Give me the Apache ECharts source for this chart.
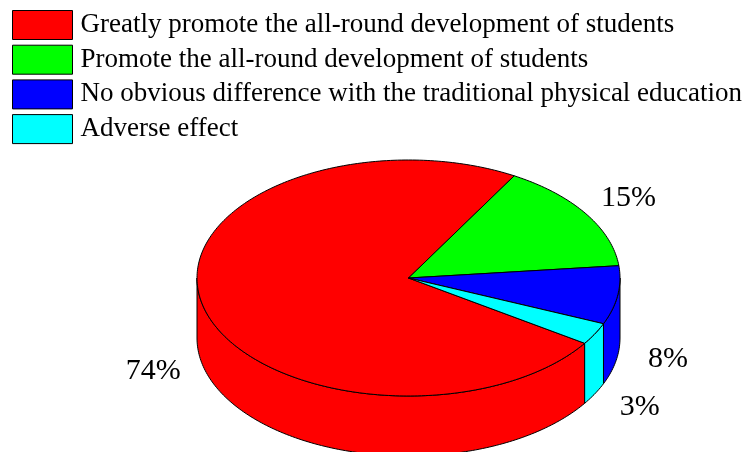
<!DOCTYPE html>
<html>
<head>
    <meta charset="UTF-8">
    <title>3D pie</title>
    <script src="https://cdn.jsdelivr.net/npm/echarts@6/dist/echarts.min.js"></script>
</head>
<body style="margin:0">
    <div id="main" style="width:751px;height:452px;"></div>
    <script>
        // data
        var categories = [
            'Greatly promote the all-round development of students',
            'Promote the all-round development of students',
            'No obvious difference with the traditional physical education',
            'Adverse effect'
        ];
        var values = [74, 15, 8, 3];
        var colors = ['#ff0000', '#00ff00', '#0000ff', '#00ffff'];

        var total = values.reduce(function (a, b) { return a + b; }, 0);

        // pie layout (ellipse + side depth)
        var cx = 408.5, cy = 278, rx = 211.5, ry = 118, depth = 60;
        var startAngle = -33.6; // degrees, slices go clockwise
        var labelK = 1.24;
        var rad = Math.PI / 180;

        function pt(deg, dy) {
            return [cx + rx * Math.cos(deg * rad), cy - ry * Math.sin(deg * rad) + (dy || 0)];
        }

        function arcPoints(from, to, dy) {
            var pts = [];
            var n = Math.max(2, Math.ceil(Math.abs(to - from) / 1));
            for (var j = 0; j <= n; j++) {
                pts.push(pt(from + (to - from) * j / n, dy));
            }
            return pts;
        }

        function makeRender(idx) {
            return function (params, api) {
                var cum = 0;
                for (var k = 0; k < idx; k++) cum += values[k];
                var v = api.value(0);
                var a1 = startAngle - cum / total * 360;
                var a2 = a1 - v / total * 360;
                var children = [];

                // side wall on the front half
                for (var m = -2; m <= 1; m++) {
                    var lo = Math.max(a2, -180 + 360 * m);
                    var hi = Math.min(a1, 360 * m);
                    if (hi > lo) {
                        var top = arcPoints(lo, hi, 0);
                        var bot = arcPoints(hi, lo, depth);
                        children.push({
                            type: 'polygon',
                            z2: 1,
                            shape: { points: top.concat(bot) },
                            style: { fill: colors[idx], stroke: '#000', lineWidth: 1 }
                        });
                    }
                }

                // top face
                children.push({
                    type: 'polygon',
                    z2: 2,
                    shape: { points: [[cx, cy]].concat(arcPoints(a1, a2, 0)) },
                    style: { fill: colors[idx], stroke: '#000', lineWidth: 1 }
                });

                // label
                var mid = (a1 + a2) / 2;
                var s = Math.sin(mid * rad);
                children.push({
                    type: 'text',
                    z2: 3,
                    x: cx + rx * labelK * Math.cos(mid * rad),
                    y: cy - ry * labelK * s + (s < 0 ? depth : 0),
                    style: {
                        text: Math.round(v / total * 100) + '%',
                        fill: '#000',
                        font: '30px "Liberation Serif", "Times New Roman", serif',
                        align: 'center',
                        verticalAlign: 'middle'
                    }
                });

                return { type: 'group', children: children };
            };
        }

        var series = categories.map(function (name, i) {
            return {
                name: name,
                type: 'custom',
                coordinateSystem: 'none',
                itemStyle: { color: colors[i] },
                data: [[values[i]]],
                renderItem: makeRender(i)
            };
        });

        var myChart = echarts.init(document.getElementById('main'));
        myChart.setOption({
            animation: false,
            legend: {
                orient: 'vertical',
                left: 12,
                top: 10,
                padding: 0,
                itemGap: 4.7,
                itemWidth: 60,
                itemHeight: 29,
                icon: 'rect',
                selectedMode: false,
                itemStyle: { borderColor: '#000', borderWidth: 1 },
                textStyle: {
                    fontFamily: '"Liberation Serif", "Times New Roman", serif',
                    fontSize: 27,
                    color: '#000',
                    padding: [0, 0, 0, 3]
                },
                data: categories
            },
            series: series
        });
    </script>
</body>
</html>
